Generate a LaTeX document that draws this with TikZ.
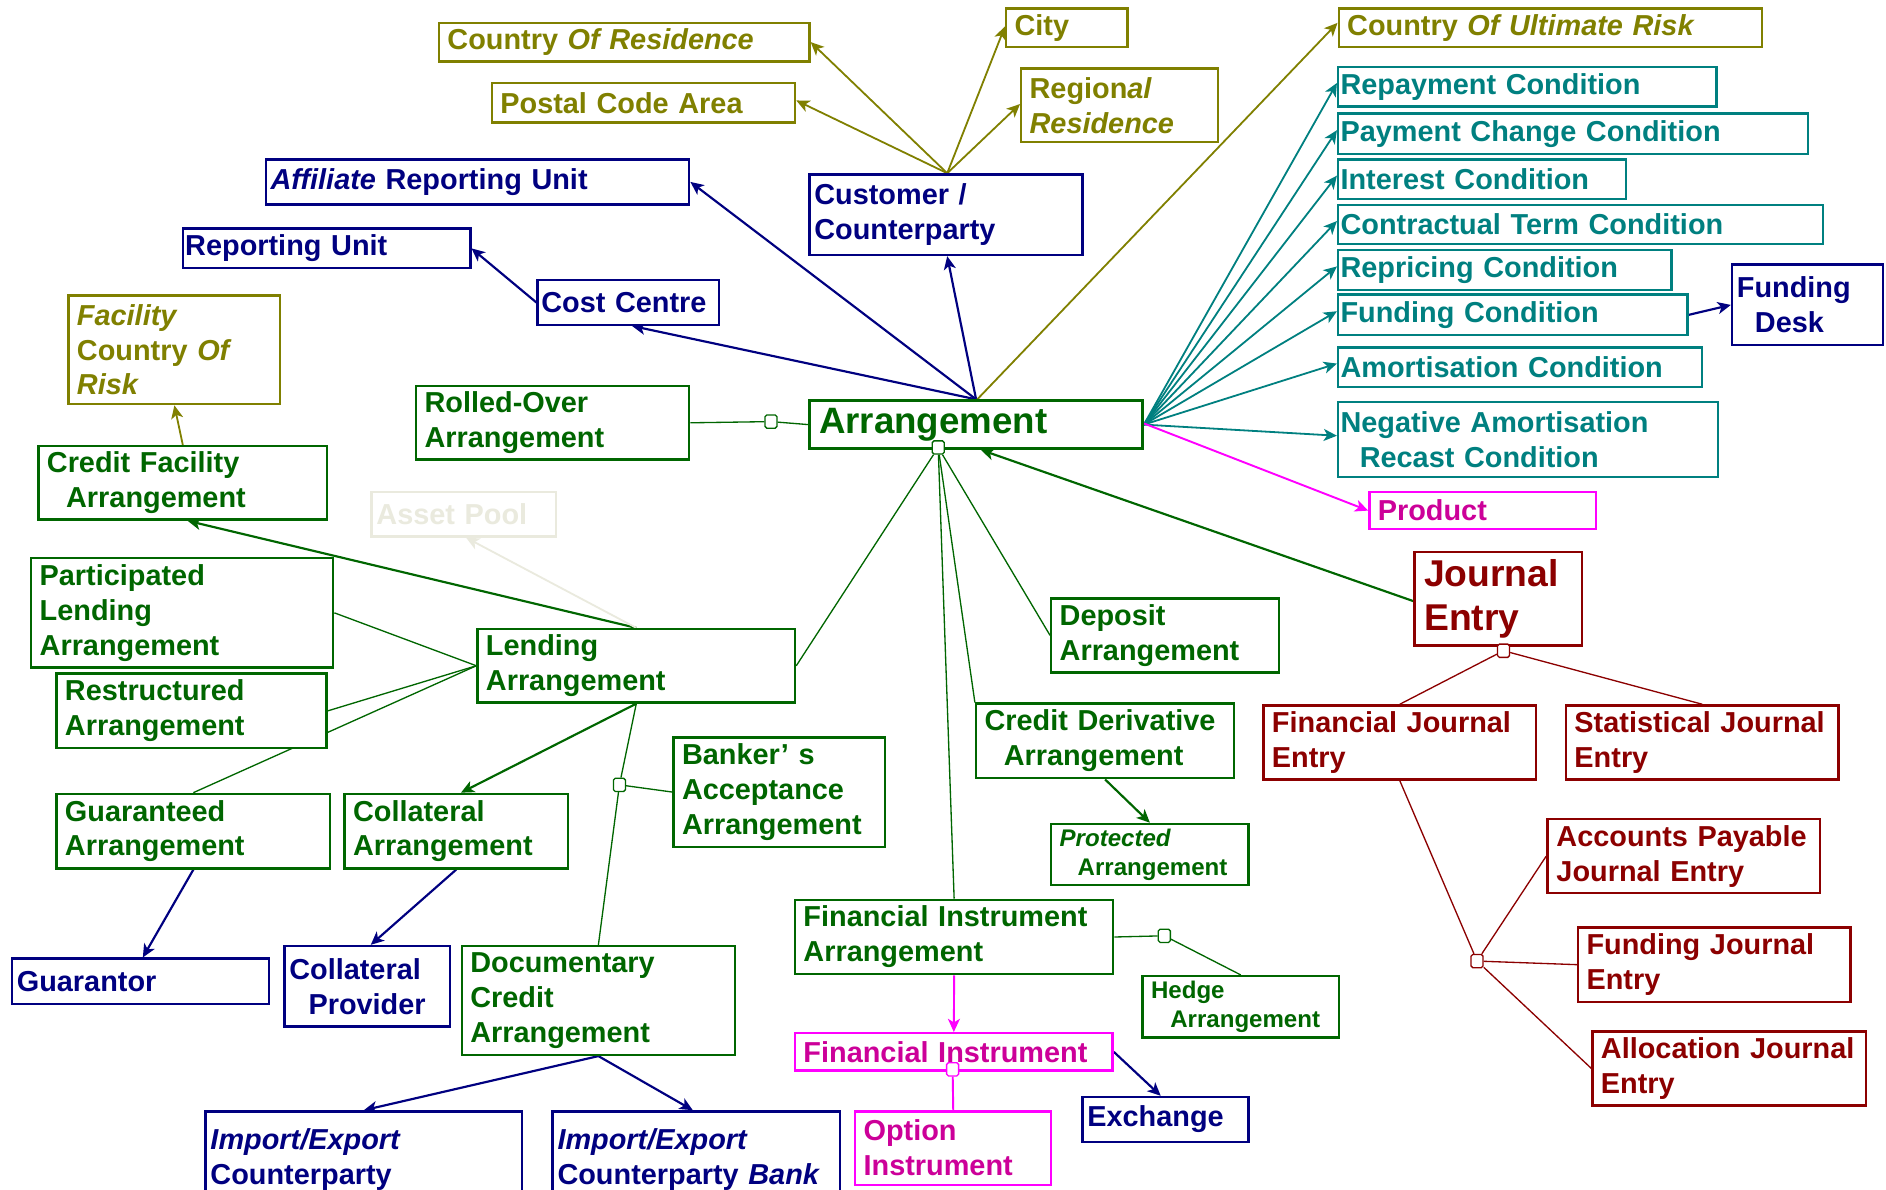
\documentclass[tikz,border=0pt]{standalone}
\usepackage{fontspec}
\setmainfont{Liberation Sans}
\usetikzlibrary{arrows.meta}
\pgfdeclarelayer{bg}
\pgfsetlayers{bg,main}
\definecolor{olv}{RGB}{128,128,0}
\definecolor{nvy}{RGB}{0,0,128}
\definecolor{grn}{RGB}{0,102,0}
\definecolor{tea}{RGB}{0,128,128}
\definecolor{mgl}{RGB}{255,0,255}
\definecolor{mgt}{RGB}{204,0,153}
\definecolor{drd}{RGB}{140,0,0}
\definecolor{apc}{RGB}{234,234,222}
\newcommand\fsN{\fontsize{24}{29}\selectfont\bfseries}
\newcommand\fsL{\fontsize{30.5}{36}\selectfont\bfseries}
\newcommand\fsJ{\fontsize{31}{37}\selectfont\bfseries}
\newcommand\fsS{\fontsize{20}{24}\selectfont\bfseries}
\begin{document}
\begin{tikzpicture}[x=1pt,y=-1pt,
  bx/.style={draw, fill=white, anchor=north west, align=left, inner ysep=0pt, line width=2pt, font=\fsN},
  cO/.style={draw=olv, text=olv},
  cN/.style={draw=nvy, text=nvy},
  cG/.style={draw=grn, text=grn},
  cT/.style={draw=tea, text=tea},
  cM/.style={draw=mgl, text=mgt},
  cR/.style={draw=drd, text=drd},
  arw/.style={-{Stealth[length=11pt,width=10pt,inset=3pt]}},
  lN/.style={draw=nvy, line width=1.8pt, arw},
  lO/.style={draw=olv, line width=1.5pt, arw},
  lT/.style={draw=tea, line width=1.5pt, arw},
  lM/.style={draw=mgl, line width=1.6pt},
  lG/.style={draw=grn, line width=1.8pt, arw},
  lg/.style={draw=grn, line width=1.1pt},
  lR/.style={draw=drd, line width=1.1pt},
  sq/.style={draw, fill=white, minimum width=10pt, minimum height=11pt, inner sep=0pt, rounded corners=1.5pt, line width=1.1pt}
]
\useasboundingbox (0,0) rectangle (1568,989);

% olive boxes
\node[bx,cO,minimum height=32pt,text width=294pt,inner xsep=7pt] (cor) at (364,18) {Country~\textit{Of~Residence}};
\node[bx,cO,minimum height=33pt,text width=238pt,inner xsep=7pt] (pca) at (408,68) {Postal~Code~Area};
\node[bx,cO,minimum height=32pt,text width=87pt,inner xsep=7pt] (city) at (835.5,6) {City};
\node[bx,cO,minimum height=61pt,text width=149.5pt,inner xsep=7pt] (reg) at (848,56) {Region\textit{al}\\\textit{Residence}};
\node[bx,cO,minimum height=32pt,text width=338pt,inner xsep=7pt] (cur) at (1112,6) {Country~\textit{Of~Ultimate~Risk}};
\node[bx,cO,minimum height=90.5pt,text width=162pt,inner xsep=7pt] (fcr) at (56,244.5) {\textit{Facility}\\Country~\textit{Of}\\\textit{Risk}};

% navy boxes
\node[bx,cN,minimum height=37.5pt,text width=344pt,inner xsep=4pt] (aff) at (220,131.5) {\textit{Affiliate}~Reporting~Unit};
\node[bx,cN,minimum height=33pt,text width=235pt,inner xsep=2pt] (ru) at (151,189) {Reporting~Unit};
\node[bx,cN,minimum height=37pt,text width=145pt,inner xsep=3pt] (cc) at (446,232) {Cost~Centre};
\node[bx,cN,minimum height=67pt,text width=219pt,inner xsep=4pt] (cust) at (672,144) {Customer~/\\Counterparty};
\node[bx,cN,minimum height=37.5pt,text width=205.5pt,inner xsep=4pt] (gtor) at (9,796) {Guarantor};
\node[bx,cN,minimum height=67pt,text width=129.5pt,inner xsep=4pt] (cprov) at (235.5,785.5) {Collateral\\\hspace*{16pt}Provider};
\node[bx,cN,minimum height=80pt,text width=255pt,inner xsep=4pt] (iec) at (170,923) {\textit{Import/Export}\\Counterparty};
\node[bx,cN,minimum height=80pt,text width=231pt,inner xsep=4pt] (ieb) at (458.5,923) {\textit{Import/Export}\\Counterparty~\textit{Bank}};
\node[bx,cN,minimum height=37.5pt,text width=130pt,inner xsep=4pt] (exch) at (899,911) {Exchange};
\node[bx,cN,minimum height=67pt,text width=117.5pt,inner xsep=4pt] (fdesk) at (1439,219) {Funding\\\hspace*{15pt}Desk};

% green boxes
\node[bx,cG,font=\fsL,minimum height=40pt,text width=261pt,inner xsep=8pt] (arr) at (672,332) {Arrangement};
\node[bx,cG,minimum height=61pt,text width=213pt,inner xsep=7pt] (rolled) at (345,320) {Rolled-Over\\Arrangement};
\node[bx,cG,minimum height=61pt,text width=226pt,inner xsep=7pt] (cfa) at (31,370) {Credit~Facility\\\hspace*{16pt}Arrangement};
\node[bx,draw=apc,text=apc,minimum height=37pt,text width=145pt,inner xsep=4pt] (ap) at (308,408) {Asset~Pool};
\node[bx,cG,minimum height=91pt,text width=237pt,inner xsep=7pt] (pla) at (25,463) {Participated\\Lending\\Arrangement};
\node[bx,cG,minimum height=61pt,text width=250pt,inner xsep=7pt] (lend) at (396,522) {Lending\\Arrangement};
\node[bx,cG,minimum height=62pt,text width=210.5pt,inner xsep=7pt] (rest) at (46,559) {Restructured\\Arrangement};
\node[bx,cG,minimum height=62pt,text width=213.5pt,inner xsep=7pt] (guar) at (46,659) {Guaranteed\\Arrangement};
\node[bx,cG,minimum height=62pt,text width=171.5pt,inner xsep=7pt] (coll) at (285.5,659) {Collateral\\Arrangement};
\node[bx,cG,minimum height=91pt,text width=162pt,inner xsep=7pt] (bank) at (559,612) {Banker’~s\\Acceptance\\Arrangement};
\node[bx,cG,minimum height=90.5pt,text width=213pt,inner xsep=7pt] (doc) at (383,785.5) {Documentary\\Credit\\Arrangement};
\node[bx,cG,minimum height=62pt,text width=250.5pt,inner xsep=7pt] (fia) at (660,747) {Financial~Instrument\\Arrangement};
\node[bx,cG,font=\fsS,minimum height=51pt,text width=149pt,inner xsep=7pt] (hedge) at (949,810.5) {Hedge\\\hspace*{16pt}Arrangement};
\node[bx,cG,font=\fsS,minimum height=51pt,text width=150pt,inner xsep=7pt] (prot) at (873,684) {\textit{Protected}\\\hspace*{15pt}Arrangement};
\node[bx,cG,minimum height=62pt,text width=200.5pt,inner xsep=7pt] (cderiv) at (810.5,584) {Credit~Derivative\\\hspace*{16pt}Arrangement};
\node[bx,cG,minimum height=61.5pt,text width=175.5pt,inner xsep=7pt] (dep) at (873,496.5) {Deposit\\Arrangement};

% teal boxes
\node[bx,cT,minimum height=33pt,text width=310.5pt,inner xsep=2pt] (rep) at (1111.5,54.5) {Repayment~Condition};
\node[bx,cT,minimum height=33.5pt,text width=386.5pt,inner xsep=2pt] (pcc) at (1111.5,93.5) {Payment~Change~Condition};
\node[bx,cT,minimum height=33pt,text width=235.5pt,inner xsep=2pt] (ic) at (1111.5,131.5) {Interest~Condition};
\node[bx,cT,minimum height=32.5pt,text width=399pt,inner xsep=2pt] (ctc) at (1111.5,169.5) {Contractual~Term~Condition};
\node[bx,cT,minimum height=33pt,text width=273pt,inner xsep=2pt] (rpc) at (1111.5,207) {Repricing~Condition};
\node[bx,cT,minimum height=33.5pt,text width=286.5pt,inner xsep=2pt] (fc) at (1111.5,244) {Funding~Condition};
\node[bx,cT,minimum height=32.5pt,text width=298.5pt,inner xsep=2pt] (amc) at (1111.5,288) {Amortisation~Condition};
\node[bx,cT,minimum height=62.5pt,text width=312pt,inner xsep=2pt] (nar) at (1111.5,333) {Negative~Amortisation\\\hspace*{16pt}Recast~Condition};

% magenta boxes
\node[bx,cM,minimum height=31pt,text width=174.5pt,inner xsep=7pt] (prod) at (1137.5,408) {Product};
\node[bx,cM,minimum height=31pt,text width=250pt,inner xsep=7pt] (fi) at (660,858) {Financial~Instrument};
\node[bx,cM,minimum height=61pt,text width=149pt,inner xsep=7pt] (opt) at (710,923) {Option\\Instrument};

% dark red boxes
\node[bx,cR,font=\fsJ,minimum height=77.5pt,text width=123pt,inner xsep=8pt] (jentry) at (1175,458) {Journal\\Entry};
\node[bx,cR,minimum height=61.5pt,text width=212.5pt,inner xsep=7pt] (fje) at (1049.5,585.5) {Financial~Journal\\Entry};
\node[bx,cR,minimum height=61.5pt,text width=212.5pt,inner xsep=7pt] (sje) at (1301,585.5) {Statistical~Journal\\Entry};
\node[bx,cR,minimum height=61.5pt,text width=211.5pt,inner xsep=7.5pt] (apje) at (1285.5,680) {Accounts~Payable\\Journal~Entry};
\node[bx,cR,minimum height=62pt,text width=212.5pt,inner xsep=7pt] (fuje) at (1311,770) {Funding~Journal\\Entry};
\node[bx,cR,minimum height=61.5pt,text width=213.5pt,inner xsep=7pt] (alje) at (1323,856.5) {Allocation~Journal\\Entry};

% aggregation squares
\node[sq,draw=grn] (sqR) at (641,350.5) {};
\node[sq,draw=grn] (sqA) at (780,372) {};
\node[sq,draw=grn] (sqL) at (515,652.5) {};
\node[sq,draw=grn] (sqH) at (968,778) {};
\node[sq,draw=drd] (sqJ) at (1250,541) {};
\node[sq,draw=drd] (sqF) at (1228,799) {};
\node[sq,draw=mgl] (sqI) at (792,889) {};

\begin{pgfonlayer}{bg}
\fill[white] (0,0) rectangle (1568,989);
% navy arrows
\draw[lN] (arr.north) -- (aff.east);
\draw[lN] (arr.north) -- ([xshift=3pt]cc.south);
\draw[lN] (cc.west) -- (ru.east);
\draw[lN] (arr.north) -- ([xshift=1pt]cust.south);
\draw[lN] (fc.east) -- (fdesk.west);
\draw[lN] (guar.south) -- ([xshift=2pt]gtor.north);
\draw[lN] (coll.south) -- ([xshift=3pt]cprov.north);
\draw[lN] (doc.south) -- (iec.north);
\draw[lN] (doc.south) -- ([xshift=-3pt]ieb.north);
\draw[lN] (fi.east) -- ([xshift=-4pt]exch.north);
% olive arrows
\draw[lO] ([xshift=1pt]cust.north) -- (cor.east);
\draw[lO] ([xshift=1pt]cust.north) -- ([yshift=2pt]pca.east);
\draw[lO] ([xshift=1pt]cust.north) -- ([yshift=1pt]city.west);
\draw[lO] ([xshift=1pt]cust.north) -- ([yshift=1pt]reg.west);
\draw[lO] ([xshift=1pt]arr.north) -- ([yshift=4pt]cur.west);
\draw[lO] (cfa.north) -- (fcr.south);
% teal arrows
\foreach \n in {rep,pcc,ic,ctc,rpc,fc,amc,nar}
  \draw[lT] (arr.east) -- ([yshift=3pt]\n.west);
% magenta
\draw[lM,arw] ([yshift=1pt]arr.east) -- (prod.west);
\draw[lM,arw] (fia.south) -- (fi.north);
\draw[lM] (sqI) -- (opt.north);
% green arrows
\draw[lG] ([yshift=-2pt]jentry.west) -- ([xshift=4pt]arr.south);
\draw[lG] (lend.north) -- ([xshift=4pt]cfa.south);
\draw[lG] (lend.south) -- ([xshift=4pt]coll.north);
\draw[lG] (cderiv.south) -- (prot.north);
\draw[draw=apc, line width=1.5pt, arw] (lend.north) -- ([xshift=2pt]ap.south);
% green thin lines
\draw[lg] (rolled.east) -- (sqR) -- (arr.west);
\draw[lg] (sqA) -- (lend.east);
\draw[lg] (sqA) -- (dep.west);
\draw[lg] (sqA) -- (cderiv.north west);
\draw[lg] (sqA) -- (fia.north);
\draw[lg] (pla.east) -- (lend.west);
\draw[lg] (rest.east) -- (lend.west);
\draw[lg] (guar.north) -- (lend.west);
\draw[lg] (lend.south) -- (sqL) -- (doc.north);
\draw[lg] (bank.west) -- (sqL);
\draw[lg] (fia.east) -- (sqH) -- (hedge.north);
% dark red thin lines
\draw[lR] (sqJ) -- (fje.north);
\draw[lR] (sqJ) -- (sje.north);
\draw[lR] (fje.south) -- (sqF);
\draw[lR] (sqF) -- (apje.west);
\draw[lR] (sqF) -- (fuje.west);
\draw[lR] (sqF) -- (alje.west);
\end{pgfonlayer}
\end{tikzpicture}
\end{document}
